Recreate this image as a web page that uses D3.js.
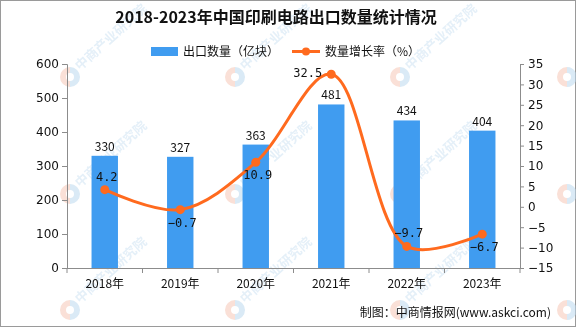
<!DOCTYPE html>
<html><head><meta charset="utf-8">
<script src="https://cdn.jsdelivr.net/npm/d3@7"></script>
<style>
html,body{margin:0;padding:0;background:#fff;}
svg{display:block;}
text{font-family:"Noto Sans CJK SC","DejaVu Sans",sans-serif;}
</style></head>
<body>
<svg id="c" width="576" height="327"></svg>
<script>
const years = ["2018年","2019年","2020年","2021年","2022年","2023年"];
const exportQty = [330,327,363,481,434,404];
const growthRate = [4.2,-0.7,10.9,32.5,-9.7,-6.7];
const leftTicks = [0,100,200,300,400,500,600];
const rightTicks = [-15,-10,-5,0,5,10,15,20,25,30,35];
const rateLabelPos = ["above","below","below","left","above","below"];

const svg = d3.select("#c");
const W = 576, H = 327;
const blue = "#409CF0", orange = "#FF6A1E", axisCol = "#8c8c8c";

svg.append("rect").attr("x",0.5).attr("y",0.5).attr("width",W-1).attr("height",H-1)
  .attr("fill","#fff").attr("stroke","#9a9a9a");

// watermarks
const wm = svg.append("g").attr("opacity",0.55);
const wmX = [-95,70,235,400,567], wmY = [-40,77,194,310];
wmX.forEach(px => wmY.forEach(py => {
  const g = wm.append("g").attr("transform",`translate(${px},${py})`);
  g.append("path").attr("d",d3.arc()({innerRadius:4,outerRadius:10,startAngle:Math.PI,endAngle:2*Math.PI})).attr("fill","#f6c7b6");
  g.append("path").attr("d",d3.arc()({innerRadius:4,outerRadius:10,startAngle:0,endAngle:Math.PI})).attr("fill","#bcd9ee");
  if (px > 0 && px < 500 && py > 0) {
    g.append("text").attr("transform","translate(10,-6) rotate(-42)")
      .attr("font-size",13).attr("font-weight","bold").attr("fill","#cfe3f3")
      .text("中商产业研究院");
  }
}));

const x0 = 67, x1 = 520, yTop = 64, yBot = 268;
const x = d3.scaleBand().domain(years).range([x0,x1]);
const yL = d3.scaleLinear().domain([0,600]).range([yBot,yTop]);
const yR = d3.scaleLinear().domain([-15,35]).range([yBot,yTop]);

// title
svg.append("text").attr("x",276).attr("y",23).attr("text-anchor","middle")
  .attr("font-size",16).attr("font-weight","bold").attr("fill","#111")
  .text("2018-2023年中国印刷电路出口数量统计情况");

// legend
svg.append("rect").attr("x",151).attr("y",47).attr("width",27).attr("height",9).attr("fill",blue);
svg.append("text").attr("x",183).attr("y",56).attr("font-size",12).attr("fill","#111").text("出口数量（亿块）");
svg.append("line").attr("x1",292).attr("x2",320).attr("y1",51.5).attr("y2",51.5).attr("stroke",orange).attr("stroke-width",3);
svg.append("circle").attr("cx",306).attr("cy",51.5).attr("r",4).attr("fill",orange);
svg.append("text").attr("x",325).attr("y",56).attr("font-size",12).attr("fill","#111").text("数量增长率（%）");

// bars
const bw = x.bandwidth()*0.35;
svg.append("g").selectAll("rect").data(exportQty).join("rect")
  .attr("x",(d,i)=>x(years[i])+x.bandwidth()/2-bw/2)
  .attr("y",d=>yL(d)).attr("width",bw).attr("height",d=>yBot-yL(d)).attr("fill",blue);
svg.append("g").selectAll("text").data(exportQty).join("text")
  .attr("x",(d,i)=>x(years[i])+x.bandwidth()/2).attr("y",d=>yL(d)-5)
  .attr("text-anchor","middle").attr("font-size",12).attr("fill","#111").text(d=>d);

// axes
const axL = svg.append("g").attr("transform",`translate(${x0},0)`)
  .call(d3.axisLeft(yL).tickValues(leftTicks).tickSize(5).tickPadding(3));
const axR = svg.append("g").attr("transform",`translate(${x1},0)`)
  .call(d3.axisRight(yR).tickValues(rightTicks).tickSize(4).tickPadding(4).tickFormat(d=>d<0?"−"+Math.abs(d):d));
const axB = svg.append("g").attr("transform",`translate(0,${yBot})`)
  .call(d3.axisBottom(x).tickSize(5).tickPadding(6));
axB.selectAll(".tick line").attr("transform",`translate(${-x.bandwidth()/2},0)`);
axB.append("line").attr("x1",x1).attr("x2",x1).attr("y1",0).attr("y2",5).attr("stroke",axisCol);
[axL,axR,axB].forEach(a=>{
  a.select(".domain").attr("stroke",axisCol);
  a.selectAll(".tick line").attr("stroke",axisCol);
  a.selectAll(".tick text").attr("fill","#111").attr("font-size",12)
   .style("font-family","'DejaVu Sans',sans-serif");
});
axB.selectAll(".tick text").style("font-family","'Noto Sans CJK SC',sans-serif");
axB.select(".domain").attr("d",`M${x0},0.5H${x1}`);

// line
const pts = growthRate.map((v,i)=>[x(years[i])+x.bandwidth()/2, yR(v)]);
svg.append("path").attr("d",d3.line().curve(d3.curveCatmullRom.alpha(0.5))(pts))
  .attr("fill","none").attr("stroke",orange).attr("stroke-width",3);
svg.append("g").selectAll("circle").data(pts).join("circle")
  .attr("cx",d=>d[0]).attr("cy",d=>d[1]).attr("r",4.5).attr("fill",orange);
svg.append("g").selectAll("text").data(growthRate).join("text")
  .attr("x",(d,i)=>{const p=pts[i]; return rateLabelPos[i]==="left"?p[0]-9:p[0]+2;})
  .attr("y",(d,i)=>{const p=pts[i]; const pos=rateLabelPos[i];
     return pos==="above"?p[1]-9:pos==="below"?p[1]+17:p[1]+3;})
  .attr("text-anchor",(d,i)=>rateLabelPos[i]==="left"?"end":"middle")
  .attr("font-size",12).attr("fill","#111").style("font-family","'DejaVu Sans Mono',monospace")
  .text(d=>d<0?"−"+Math.abs(d):d);

// source
svg.append("text").attr("x",551).attr("y",317).attr("text-anchor","end").attr("font-size",12).attr("fill","#111")
  .text("制图：中商情报网(www.askci.com)");
</script>
</body></html>
